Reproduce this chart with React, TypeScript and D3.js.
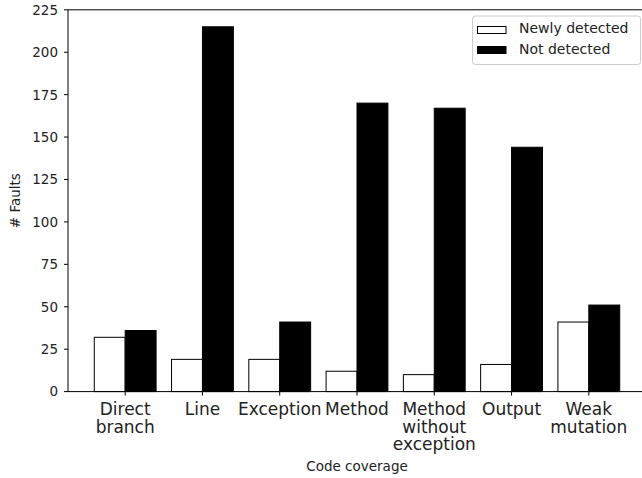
import React from "react";
import * as d3 from "d3";

const categories: string[][] = [
  ["Direct", "branch"],
  ["Line"],
  ["Exception"],
  ["Method"],
  ["Method", "without", "exception"],
  ["Output"],
  ["Weak", "mutation"],
];
const newlyDetected = [32, 19, 19, 12, 10, 16, 41];
const notDetected = [36, 215, 41, 170, 167, 144, 51];
const yTicks = [0, 25, 50, 75, 100, 125, 150, 175, 200, 225];
const seriesNames = ["Newly detected", "Not detected"];

const W = 642;
const H = 478;
const FONT = "DejaVu Sans, sans-serif";

export default function App() {
  const x = d3.scaleLinear().domain([-0.74, 6.74]).range([68, 646]);
  const y = d3.scaleLinear().domain([0, 225]).range([391.6, 9.8]);
  const bw = x(0.4) - x(0);
  const left = x(-0.74);
  const right = x(6.74);
  const top = y(225);
  const bottom = y(0);

  return (
    <svg
      width={W}
      height={H}
      style={{ position: "absolute", left: 0, top: 0, background: "#fff" }}
      fontFamily={FONT}
    >
      <rect x={0} y={0} width={W} height={H} fill="#fff" />
      {/* bars */}
      {newlyDetected.map((v, i) => (
        <rect
          key={"n" + i}
          x={x(i - 0.4)}
          y={y(v)}
          width={bw}
          height={bottom - y(v)}
          fill="#fff"
          stroke="#000"
          strokeWidth={1}
        />
      ))}
      {notDetected.map((v, i) => (
        <rect
          key={"d" + i}
          x={x(i)}
          y={y(v)}
          width={bw}
          height={bottom - y(v)}
          fill="#000"
          stroke="#000"
          strokeWidth={1}
        />
      ))}
      {/* spines */}
      <line x1={left} x2={left} y1={top} y2={bottom} stroke="#000" strokeWidth={1} />
      <line x1={left} x2={right} y1={bottom} y2={bottom} stroke="#000" strokeWidth={1} />
      <line x1={left} x2={right} y1={top} y2={top} stroke="#000" strokeWidth={1} />
      {/* y ticks */}
      {yTicks.map((t) => (
        <g key={"yt" + t}>
          <line x1={left - 4} x2={left} y1={y(t)} y2={y(t)} stroke="#000" strokeWidth={1} />
          <text
            x={left - 10}
            y={y(t)}
            dy="0.36em"
            textAnchor="end"
            fontSize={13.5}
            fill="#222"
          >
            {t}
          </text>
        </g>
      ))}
      {/* x ticks */}
      {categories.map((lines, i) => (
        <g key={"xt" + i}>
          <line x1={x(i)} x2={x(i)} y1={bottom} y2={bottom + 4} stroke="#000" strokeWidth={1} />
          <text textAnchor="middle" fontSize={17} fill="#222">
            {lines.map((l, j) => (
              <tspan key={j} x={x(i)} y={415 + j * 17.5}>
                {l}
              </tspan>
            ))}
          </text>
        </g>
      ))}
      {/* axis labels */}
      <text x={(left + right) / 2} y={471} textAnchor="middle" fontSize={13.5} fill="#222">
        Code coverage
      </text>
      <text
        transform={`translate(20, ${(top + bottom) / 2}) rotate(-90)`}
        textAnchor="middle"
        fontSize={13.5}
        fill="#222"
      >
        # Faults
      </text>
      {/* legend */}
      <rect x={472.5} y={16} width={168} height={48.5} rx={3} fill="#fff" fillOpacity={0.8} stroke="#ccc" />
      <rect x={477.5} y={26.5} width={28.5} height={7} fill="#fff" stroke="#000" />
      <rect x={477.5} y={46.5} width={28.5} height={7} fill="#000" stroke="#000" />
      <text x={519} y={33.3} fontSize={14} fill="#222">
        {seriesNames[0]}
      </text>
      <text x={519} y={53.5} fontSize={14} fill="#222">
        {seriesNames[1]}
      </text>
    </svg>
  );
}
